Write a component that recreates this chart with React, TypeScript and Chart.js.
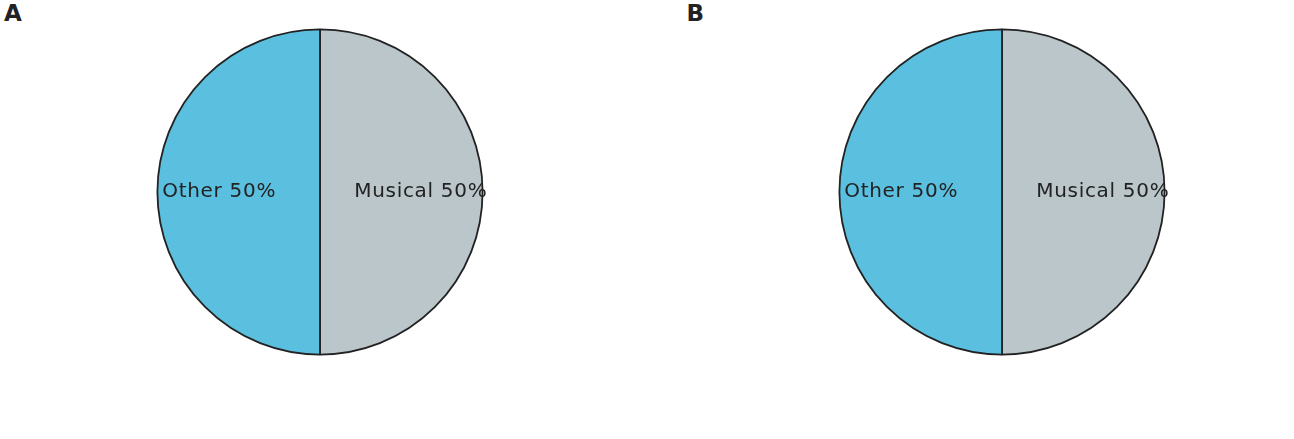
import { Chart, registerables } from 'chart.js';
import { useEffect, useRef } from 'react';

Chart.register(...registerables);

const categories = ['Musical', 'Other'];
const panelAValues = [50, 50];
const panelBValues = [50, 50];
const colors = ['#bac6ca', '#5bc0e0'];

const sliceLabels = {
  id: 'sliceLabels',
  afterDatasetsDraw(chart: any) {
    const { ctx } = chart;
    const meta = chart.getDatasetMeta(0);
    const data = chart.data.datasets[0].data as number[];
    const total = data.reduce((a, b) => a + b, 0);
    ctx.save();
    ctx.font = '20px "DejaVu Sans"';
    ctx.letterSpacing = '0.7px';
    ctx.fillStyle = '#222';
    ctx.textAlign = 'center';
    ctx.textBaseline = 'middle';
    meta.data.forEach((arc: any, i: number) => {
      const mid = (arc.startAngle + arc.endAngle) / 2;
      const r = arc.outerRadius * 0.62;
      const x = arc.x + Math.cos(mid) * r;
      const y = arc.y + Math.sin(mid) * r;
      const pct = Math.round((data[i] / total) * 100);
      ctx.fillText(`${chart.data.labels[i]} ${pct}%`, x, y);
    });
    ctx.restore();
  },
};

const PiePanel = ({ values, letter, left }: { values: number[]; letter: string; left: number }) => {
  const ref = useRef<HTMLCanvasElement | null>(null);
  useEffect(() => {
    if (!ref.current) return;
    const chart = new Chart(ref.current, {
      type: 'pie',
      data: {
        labels: categories,
        datasets: [
          {
            data: values,
            backgroundColor: colors,
            borderColor: '#222',
            borderWidth: 1.8,
          },
        ],
      },
      options: {
        animation: false,
        responsive: false,
        layout: { padding: 16.5 },
        plugins: {
          legend: { display: false },
          tooltip: { enabled: false },
        },
      },
      plugins: [sliceLabels],
    });
    return () => {
      chart.destroy();
    };
  }, [values]);

  return (
    <>
      <div
        style={{
          position: 'absolute',
          left: left + 4,
          top: 0,
          font: 'bold 23px "DejaVu Sans"',
          color: '#222',
        }}
      >
        {letter}
      </div>
      <canvas
        ref={ref}
        width={360}
        height={360}
        style={{ position: 'absolute', left: left + 139.5, top: 12, width: 360, height: 360 }}
      />
    </>
  );
};

const App = () => {
  return (
    <div
      style={{
        position: 'fixed',
        left: 0,
        top: 0,
        width: 1294,
        height: 439,
        background: '#fff',
        overflow: 'hidden',
      }}
    >
      <PiePanel values={panelAValues} letter="A" left={0} />
      <PiePanel values={panelBValues} letter="B" left={682.5} />
    </div>
  );
};

export default App;
